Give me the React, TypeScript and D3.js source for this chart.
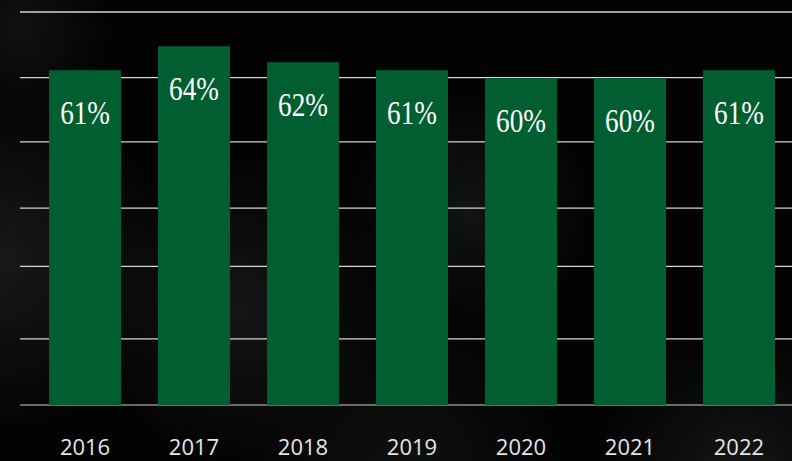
import React from "react";
import { scaleBand, scaleLinear } from "d3";

// Datos del gráfico
const years = ["2016", "2017", "2018", "2019", "2020", "2021", "2022"];
const shares = [61, 64, 62, 61, 60, 60, 61];
// Líneas de cuadrícula (en unidades del eje, no empiezan en cero)
const gridValues = [27.3, 36.4, 43.7, 52, 60.06, 68.3];
const baseValue = 19;

// Manchas de fondo (humo gris)
const smudges = [
  { cx: 0, cy: 260, r: 170, o: 0.8 },
  { cx: 20, cy: 30, r: 90, o: 0.55 },
  { cx: 240, cy: 310, r: 150, o: 0.7 },
  { cx: 470, cy: 210, r: 120, o: 0.6 },
  { cx: 740, cy: 470, r: 140, o: 0.7 },
  { cx: 400, cy: 470, r: 160, o: 0.5 },
];

export default function App() {
  const width = 792;
  const height = 461;
  const margin = { top: 12, right: 0, bottom: 56, left: 20 };

  const x = scaleBand<string>()
    .domain(years)
    .range([30.5, 793.5])
    .paddingInner(0.339)
    .paddingOuter(0.17);

  const y = scaleLinear()
    .domain([baseValue, 68.3])
    .range([height - margin.bottom, margin.top]);

  const y0 = y(baseValue);

  return (
    <div style={{ position: "absolute", left: 0, top: 0 }}>
      <svg width={width} height={height} viewBox={`0 0 ${width} ${height}`}>
        <defs>
          <radialGradient id="smoke">
            <stop offset="0%" stopColor="#1d1e20" stopOpacity={1} />
            <stop offset="100%" stopColor="#1d1e20" stopOpacity={0} />
          </radialGradient>
        </defs>
        {/* Fondo */}
        <rect x={0} y={0} width={width} height={height} fill="#030303" />
        {smudges.map((s, i) => (
          <circle
            key={i}
            cx={s.cx}
            cy={s.cy}
            r={s.r}
            fill="url(#smoke)"
            opacity={s.o}
          />
        ))}

        {/* Cuadrícula */}
        {gridValues.map((v, i) => (
          <line
            key={i}
            x1={margin.left}
            x2={width}
            y1={y(v)}
            y2={y(v)}
            stroke="#d4d4d4"
            strokeWidth={1.3}
          />
        ))}
        <line
          x1={margin.left}
          x2={width}
          y1={y0}
          y2={y0}
          stroke="#8c8c8c"
          strokeWidth={1.6}
        />

        {/* Barras */}
        {years.map((yr, i) => (
          <rect
            key={yr}
            x={x(yr)}
            y={y(shares[i])}
            width={x.bandwidth()}
            height={y0 - y(shares[i])}
            fill="#005e30"
          />
        ))}

        {/* Etiquetas de valor */}
        {years.map((yr, i) => (
          <text
            key={`v-${yr}`}
            transform={`translate(${(x(yr) ?? 0) + x.bandwidth() / 2}, ${
              y(shares[i]) + 54
            }) scale(0.8, 1)`}
            textAnchor="middle"
            fill="#ffffff"
            style={{ fontFamily: "'Liberation Serif', serif", fontSize: 34 }}
          >
            {`${shares[i]}%`}
          </text>
        ))}

        {/* Eje X */}
        {years.map((yr) => (
          <text
            key={`x-${yr}`}
            x={(x(yr) ?? 0) + x.bandwidth() / 2}
            y={454.5}
            textAnchor="middle"
            fill="#e6e6e6"
            style={{ fontFamily: "'Open Sans', sans-serif", fontSize: 22 }}
          >
            {yr}
          </text>
        ))}
      </svg>
    </div>
  );
}
